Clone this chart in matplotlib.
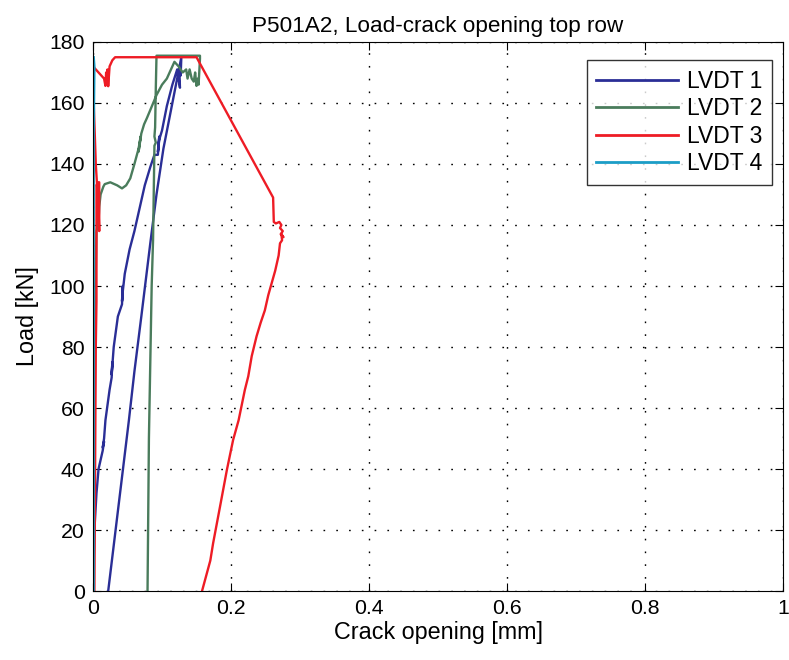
import matplotlib
matplotlib.use("Agg")
import matplotlib.pyplot as plt

plt.rcParams['font.family'] = ['Liberation Sans', 'DejaVu Sans']

title = "P501A2, Load-crack opening top row"
xlabel = "Crack opening [mm]"
ylabel = "Load [kN]"
labels = ["LVDT 1", "LVDT 2", "LVDT 3", "LVDT 4"]
colors = ["#2a2e96", "#4a7c5c", "#ee1c25", "#1b9dc6"]

lvdt1_x = [0.000, 0.001, 0.002, 0.005, 0.008, 0.014, 0.016, 0.014, 0.016, 0.018, 0.024, 0.027, 0.028, 0.027,
           0.028, 0.030, 0.036, 0.042, 0.043, 0.042, 0.043, 0.046, 0.053, 0.060, 0.068, 0.075, 0.083, 0.089,
           0.094, 0.096, 0.094, 0.096, 0.100, 0.107, 0.115, 0.122, 0.126, 0.125, 0.127, 0.128,
           0.115, 0.102, 0.092, 0.083, 0.070, 0.060, 0.052, 0.037, 0.022]
lvdt1_y = [0, 10, 20, 32, 40, 46, 49, 47, 50, 56, 66, 70, 75, 71,
           74, 80, 90, 94, 100, 95, 98, 104, 112, 118, 126, 133, 139, 143,
           143, 149, 144, 148, 151, 159, 166, 171, 165, 172, 169, 175,
           160, 145, 130, 114, 90, 72, 56, 28, 0]

lvdt2_x = [0.000, 0.002, 0.003, 0.004, 0.005, 0.007, 0.006, 0.008, 0.009, 0.011, 0.015, 0.017, 0.025, 0.035,
           0.042, 0.048, 0.054, 0.060, 0.066, 0.069, 0.066, 0.070, 0.074, 0.078, 0.083, 0.092, 0.100, 0.107,
           0.113, 0.118, 0.124, 0.130, 0.135, 0.137, 0.140, 0.143, 0.146, 0.148, 0.150, 0.152, 0.153,
           0.155, 0.155, 0.092, 0.091, 0.090, 0.089, 0.091, 0.089, 0.087, 0.085, 0.083, 0.081, 0.080, 0.079]
lvdt2_y = [0, 40, 80, 105, 118, 120, 124, 121, 126, 130, 132.6, 133.4, 134, 133,
           132, 133, 135.3, 140, 145, 149, 144, 150, 153, 155, 157.7, 162.6, 166, 168,
           171, 173.5, 172, 170, 171, 168, 171, 168, 167, 170, 165.6, 168, 166,
           174.5, 175.5, 175.5, 165, 152, 149, 147, 146, 115, 100, 75, 50, 25, 0]

lvdt3_x = [0.002, 0.003, 0.004, 0.005, 0.005, 0.007, 0.009, 0.009, 0.008, 0.004, 0.001, 0.000, 0.004, 0.008,
           0.012, 0.016, 0.018, 0.019, 0.020, 0.021, 0.022, 0.024, 0.028, 0.032, 0.150, 0.261, 0.262,
           0.265, 0.270, 0.273, 0.271, 0.275, 0.272, 0.276, 0.273, 0.274, 0.271, 0.269, 0.264, 0.259, 0.254,
           0.249, 0.243, 0.237, 0.230, 0.225, 0.220, 0.211, 0.203, 0.194, 0.184, 0.174, 0.170, 0.158]
lvdt3_y = [0, 40, 80, 95, 133, 134, 134, 118, 125, 140, 160, 172, 171, 170,
           169, 168, 165.6, 170, 166, 171, 165.5, 172, 174, 175, 175, 129, 121,
           120.5, 121, 120, 119, 118, 117, 116, 117, 115, 114, 110, 105, 101, 97,
           92, 88, 83.5, 77, 70.4, 65.9, 56, 49.5, 39.7, 27.6, 15.6, 10, 0]

lvdt4_x = [0.001, 0.001, 0.001, 0.002, 0.001]
lvdt4_y = [0, 100, 150, 172, 175]

fig = plt.figure(figsize=(7.89, 6.60), dpi=100)
ax = fig.add_axes([0.1179, 0.1045, 0.8745, 0.8319])

series = [(lvdt1_x, lvdt1_y), (lvdt2_x, lvdt2_y), (lvdt3_x, lvdt3_y), (lvdt4_x, lvdt4_y)]
for (xs, ys), lab, c in zip(series, labels, colors):
    ax.plot(xs, ys, color=c, lw=1.7, label=lab, solid_joinstyle='round')

ax.set_xlim(0, 1)
ax.set_ylim(0, 180)
ax.set_xticks([0, 0.2, 0.4, 0.6, 0.8, 1])
ax.set_xticklabels(["0", "0.2", "0.4", "0.6", "0.8", "1"])
ax.set_yticks(range(0, 181, 20))
ax.tick_params(direction='in', top=True, right=True, length=6, width=0.8, labelsize=15.3, pad=6)
ax.grid(True, linestyle=(0, (1.2, 8)), color='black', linewidth=1.0)
for s in ax.spines.values():
    s.set_linewidth(0.8)

ax.set_title(title, fontsize=16.2, pad=7)
ax.set_xlabel(xlabel, fontsize=16.8, labelpad=2)
ax.set_ylabel(ylabel, fontsize=16.8, labelpad=7)

leg = ax.legend(loc='upper right', bbox_to_anchor=(772 / 789, 1 - 60 / 660),
                bbox_transform=fig.transFigure, borderaxespad=0,
                fontsize=16.5, frameon=True, fancybox=False,
                edgecolor='black', handlelength=3.55,
                labelspacing=0.2, handletextpad=0.4, borderpad=0.42)
leg.get_frame().set_linewidth(1.0)
for ln in leg.get_lines():
    ln.set_linewidth(2.0)

fig.savefig("out.png", dpi=100)
